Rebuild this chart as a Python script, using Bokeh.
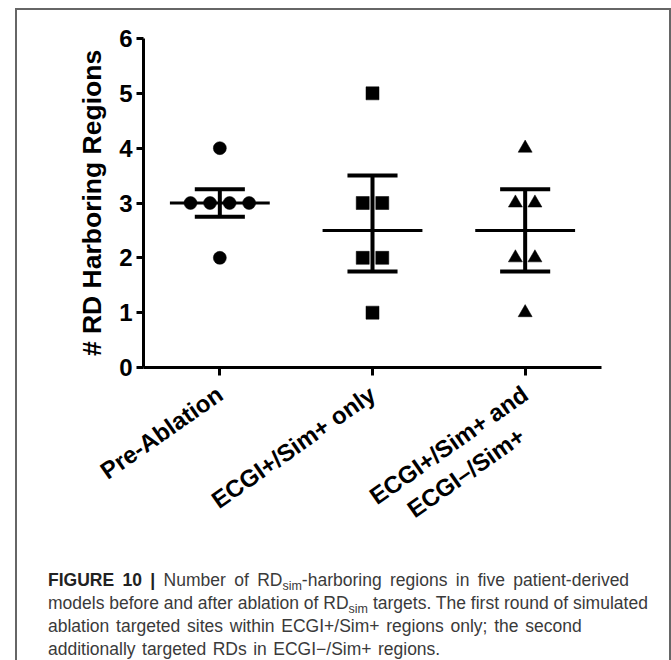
import math
from bokeh.plotting import figure
from bokeh.models import FixedTicker, Div, ColumnDataSource
from bokeh.layouts import column
from bokeh.embed import file_html
from bokeh.resources import INLINE

# ---- data ----
categories = ["Pre-Ablation", "ECGI+/Sim+ only", "ECGI+/Sim+ and\nECGI\u2013/Sim+"]
pre_ablation = [4, 3, 3, 3, 3, 2]
ecgi_plus_only = [5, 3, 3, 2, 2, 1]
ecgi_plus_and_minus = [4, 3, 3, 2, 2, 1]
medians = [3.0, 2.5, 2.5]
q1 = [2.75, 1.75, 1.75]
q3 = [3.25, 3.5, 3.25]
y_ticks = [0, 1, 2, 3, 4, 5, 6]

groups = [pre_ablation, ecgi_plus_only, ecgi_plus_and_minus]
markers = ["circle", "square", "triangle"]

FONT = "Liberation Sans"
STEP = 0.128      # horizontal spacing of tied points (x units)
HALF_MED = 0.327  # half width of median line
HALF_CAP = 0.164  # half width of quartile caps


def centered_label(text):
    """Centre the lines of a multi-line tick label and keep its first line
    where a single-line label would sit."""
    lines = text.split("\n")
    if len(lines) == 1:
        return text
    longest = max(len(l) for l in lines)
    out = []
    for l in lines:
        pad = int(round((longest - len(l)) * 0.95))
        out.append(l + "\u00a0" * pad)
    return "\n".join(["\u00a0"] + out)


p = figure(frame_width=458, frame_height=329, output_backend="svg", toolbar_location=None,
           x_range=(0.5, 3.5), y_range=(0, 6),
           min_border_left=126, min_border_right=68,
           min_border_top=28, min_border_bottom=0)
p.outline_line_color = None
p.xgrid.visible = False
p.ygrid.visible = False
p.background_fill_color = "white"
p.border_fill_color = "white"

# points with symmetric spread for tied values
for gi, vals in enumerate(groups):
    xs, ys = [], []
    counts = {}
    for v in vals:
        counts[v] = counts.get(v, 0) + 1
    seen = {}
    for v in vals:
        n = counts[v]
        k = seen.get(v, 0)
        seen[v] = k + 1
        xs.append(gi + 1 + (k - (n - 1) / 2) * STEP)
        ys.append(v)
    src = ColumnDataSource(dict(x=xs, y=ys))
    p.scatter("x", "y", source=src, marker=markers[gi], size=13 if gi < 2 else 14,
              fill_color="black", line_color="black", line_width=0.5)

xc = [i + 1 for i in range(len(categories))]
# median lines
p.segment(x0=[x - HALF_MED for x in xc], x1=[x + HALF_MED for x in xc],
          y0=medians, y1=medians, line_color="black", line_width=3)
# quartile whiskers
p.segment(x0=xc, x1=xc, y0=q1, y1=q3, line_color="black", line_width=4)
p.segment(x0=[x - HALF_CAP for x in xc], x1=[x + HALF_CAP for x in xc],
          y0=q1, y1=q1, line_color="black", line_width=4)
p.segment(x0=[x - HALF_CAP for x in xc], x1=[x + HALF_CAP for x in xc],
          y0=q3, y1=q3, line_color="black", line_width=4)

# axes
p.xaxis.ticker = FixedTicker(ticks=xc)
p.xaxis.major_label_overrides = {x: centered_label(c) for x, c in zip(xc, categories)}
p.xaxis.major_label_orientation = math.radians(35)
p.yaxis.ticker = FixedTicker(ticks=y_ticks)
p.yaxis.axis_label = "# RD Harboring Regions"

for ax in (p.xaxis[0], p.yaxis[0]):
    ax.axis_line_width = 3
    ax.axis_line_color = "black"
    ax.major_tick_line_width = 3
    ax.major_tick_line_color = "black"
    ax.major_tick_out = 8
    ax.major_tick_in = 0
    ax.minor_tick_line_color = None
    ax.major_label_text_font = FONT
    ax.major_label_text_font_style = "bold"
    ax.major_label_text_color = "black"
p.xaxis.major_label_text_font_size = "24px"
p.yaxis.major_label_text_font_size = "24px"
p.yaxis.major_tick_out = 7
p.yaxis.major_label_standoff = 4
p.xaxis.major_label_standoff = 16
p.yaxis.axis_label_text_font = FONT
p.yaxis.axis_label_text_font_style = "bold"
p.yaxis.axis_label_text_font_size = "26.5px"
p.yaxis.axis_label_text_color = "black"
p.yaxis.axis_label_standoff = 9

sub = '<sub style="font-size:12.5px;line-height:0;vertical-align:-0.3em">sim</sub>'
caption_html = (
    '<div style="font-family:\'Liberation Sans\',Arial,sans-serif;font-size:17.5px;'
    'line-height:23px;color:#3a3a3a;white-space:nowrap;padding-left:31px;padding-top:14px;">'
    '<span style="word-spacing:3.5px"><b style="color:#222">FIGURE 10 |</b> Number of RD' + sub +
    '-harboring regions in five patient-derived</span><br>'
    '<span>models before and after ablation of RD' + sub +
    ' targets. The first round of simulated</span><br>'
    '<span style="word-spacing:1.9px">ablation targeted sites within ECGI+/Sim+ regions only; the second</span><br>'
    '<span style="word-spacing:1.6px">additionally targeted RDs in ECGI\u2212/Sim+ regions.</span>'
    '</div>'
)
caption = Div(text=caption_html, width=652, height=108, margin=(-21, 0, 0, 0),
              styles={"overflow": "hidden"})

layout = column(p, caption, spacing=0,
                styles={"border-top": "2px solid #666", "border-left": "2px solid #666",
                        "border-right": "2px solid #666", "margin-left": "15px",
                        "margin-top": "8px", "background": "white"})

open("out.html", "w").write(file_html(layout, INLINE))
